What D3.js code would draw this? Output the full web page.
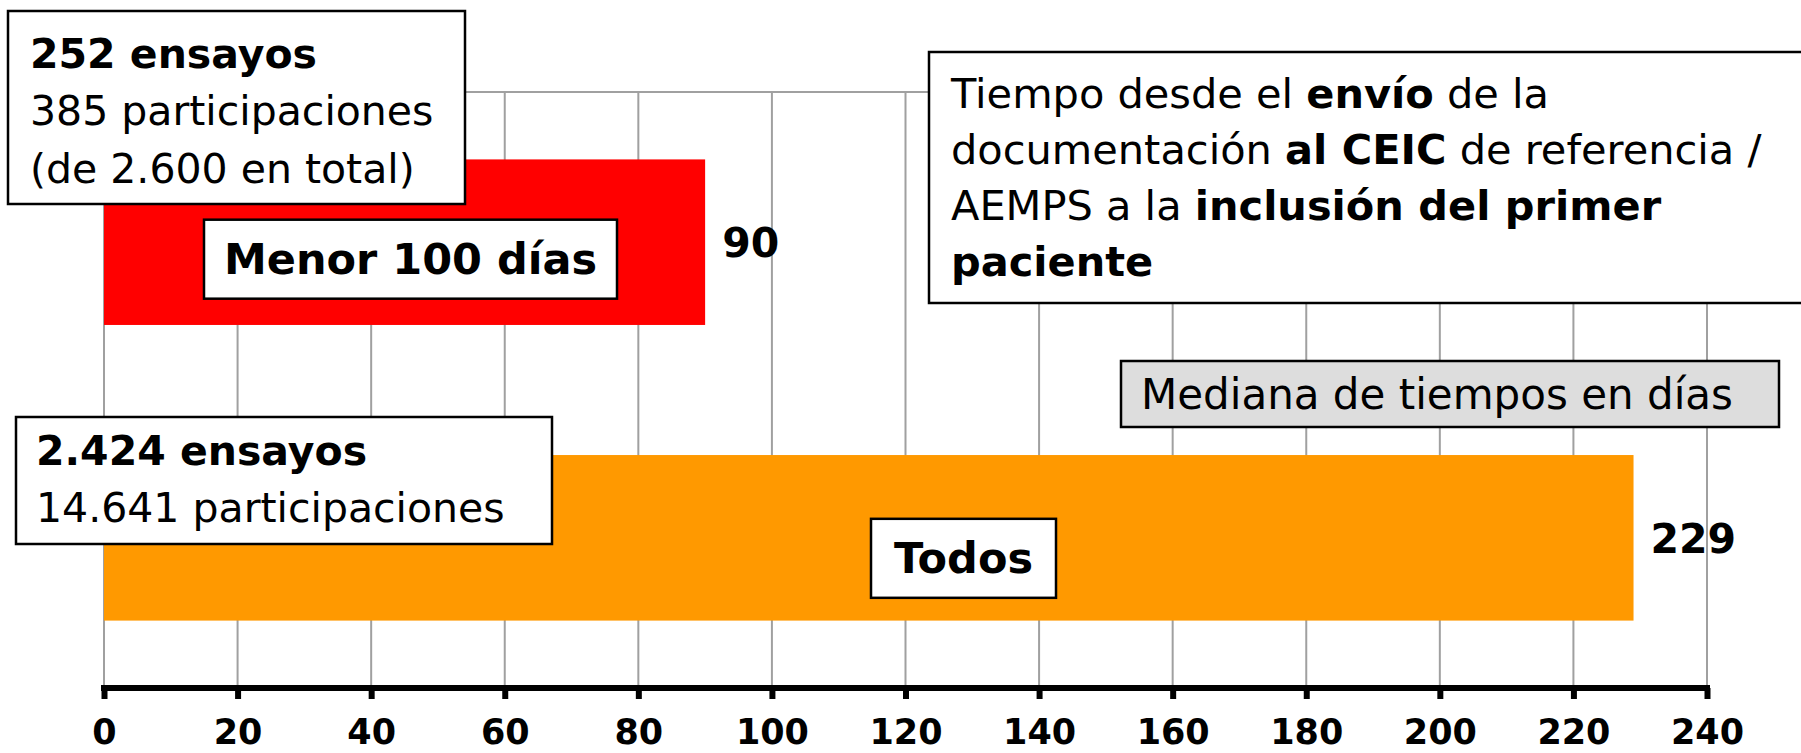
<!DOCTYPE html>
<html>
<head>
<meta charset="utf-8">
<script src="https://cdn.jsdelivr.net/npm/d3@7"></script>
<style>
  body { margin: 0; background: #fff; }
  svg text { font-family: "DejaVu Sans", Verdana, sans-serif; fill: #000; }
</style>
</head>
<body>
<script>
// data
var categories = ["Menor 100 días", "Todos"];
var medianDays = [90, 229];
var barColors = ["#ff0000", "#ff9900"];
var xTicks = [0, 20, 40, 60, 80, 100, 120, 140, 160, 180, 200, 220, 240];

var width = 1801, height = 753;
var plot = { left: 104, right: 1707, top: 92, bottom: 688 };

var svg = d3.select("body").append("svg")
    .attr("width", width)
    .attr("height", height);

var x = d3.scaleLinear().domain([0, 240]).range([plot.left, plot.right]);
var y = d3.scaleBand().domain(categories).range([plot.top, plot.bottom])
    .paddingInner(0.44).paddingOuter(0.228);

var rows = categories.map(function (c, i) {
    return { cat: c, value: medianDays[i], color: barColors[i] };
});

// gridlines
svg.append("g").selectAll("line")
    .data(xTicks)
    .enter().append("line")
    .attr("x1", d => x(d)).attr("x2", d => x(d))
    .attr("y1", plot.top).attr("y2", plot.bottom)
    .attr("stroke", "#a0a0a0").attr("stroke-width", 2);

svg.append("line")
    .attr("x1", plot.left).attr("x2", plot.right)
    .attr("y1", plot.top).attr("y2", plot.top)
    .attr("stroke", "#a0a0a0").attr("stroke-width", 2);

// bars
svg.selectAll(".bar")
    .data(rows)
    .enter().append("rect")
    .attr("class", "bar")
    .attr("x", x(0))
    .attr("y", d => y(d.cat))
    .attr("width", d => x(d.value) - x(0))
    .attr("height", y.bandwidth())
    .attr("fill", d => d.color);

// value labels
svg.selectAll(".val")
    .data(rows)
    .enter().append("text")
    .attr("class", "val")
    .attr("x", d => x(d.value) + 17)
    .attr("y", d => y(d.cat) + y.bandwidth() / 2)
    .attr("dy", "0.36em")
    .attr("font-size", 41)
    .attr("font-weight", "bold")
    .text(d => d.value);

// x axis
var xAxis = d3.axisBottom(x).tickValues(xTicks).tickSize(11).tickSizeOuter(0).tickPadding(20);
var gx = svg.append("g")
    .attr("transform", "translate(0," + plot.bottom + ")")
    .call(xAxis);
gx.select(".domain").attr("stroke", "#000").attr("stroke-width", 6)
    .attr("d", "M" + (x(0) - 3) + ",0H" + (x(240) + 3));
gx.selectAll(".tick line").attr("stroke", "#000").attr("stroke-width", 6);
gx.selectAll(".tick text")
    .attr("font-size", 35)
    .attr("font-weight", "bold")
    .attr("font-family", "DejaVu Sans, Verdana, sans-serif")
    .attr("fill", "#000");

// helper for a box with lines of text made of [text, bold] pieces
function textBox(x0, y0, w, h, fill, lines, tx, baselines, size, anchor) {
    var g = svg.append("g");
    g.append("rect")
        .attr("x", x0).attr("y", y0).attr("width", w).attr("height", h)
        .attr("fill", fill).attr("stroke", "#000").attr("stroke-width", 2.5);
    lines.forEach(function (parts, i) {
        var t = g.append("text")
            .attr("x", tx).attr("y", baselines[i])
            .attr("font-size", size)
            .attr("text-anchor", anchor || "start")
            .attr("xml:space", "preserve");
        parts.forEach(function (p) {
            t.append("tspan").attr("font-weight", p[1] ? "bold" : "normal").text(p[0]);
        });
    });
    return g;
}

// category labels inside bars
var catBoxes = [
    { x0: 204, x1: 617, dy: 17 },
    { x0: 871, x1: 1056, dy: 20.5 }
];
rows.forEach(function (d, i) {
    var b = catBoxes[i];
    var cy = y(d.cat) + y.bandwidth() / 2 + b.dy;
    textBox(b.x0, cy - 39.5, b.x1 - b.x0, 79, "#fff", [[[d.cat, true]]],
        (b.x0 + b.x1) / 2, [cy + 15], 43, "middle");
});

// info boxes
textBox(8, 11, 457, 193, "#fff", [
    [["252 ensayos", true]],
    [["385 participaciones", false]],
    [["(de 2.600 en total)", false]]
], 30, [68, 125, 183], 41);

textBox(16, 417, 536, 127, "#fff", [
    [["2.424 ensayos", true]],
    [["14.641 participaciones", false]]
], 36, [465, 522], 41);

textBox(929, 52, 890, 251, "#fff", [
    [["Tiempo desde el ", false], ["envío", true], [" de la", false]],
    [["documentación ", false], ["al CEIC", true], [" de referencia /", false]],
    [["AEMPS a la ", false], ["inclusión del primer", true]],
    [["paciente", true]]
], 951, [108, 164, 220, 276], 41.5);

textBox(1121, 361, 658, 66, "#dddddd", [
    [["Mediana de tiempos en días", false]]
], 1141, [409], 42);
</script>
</body>
</html>
